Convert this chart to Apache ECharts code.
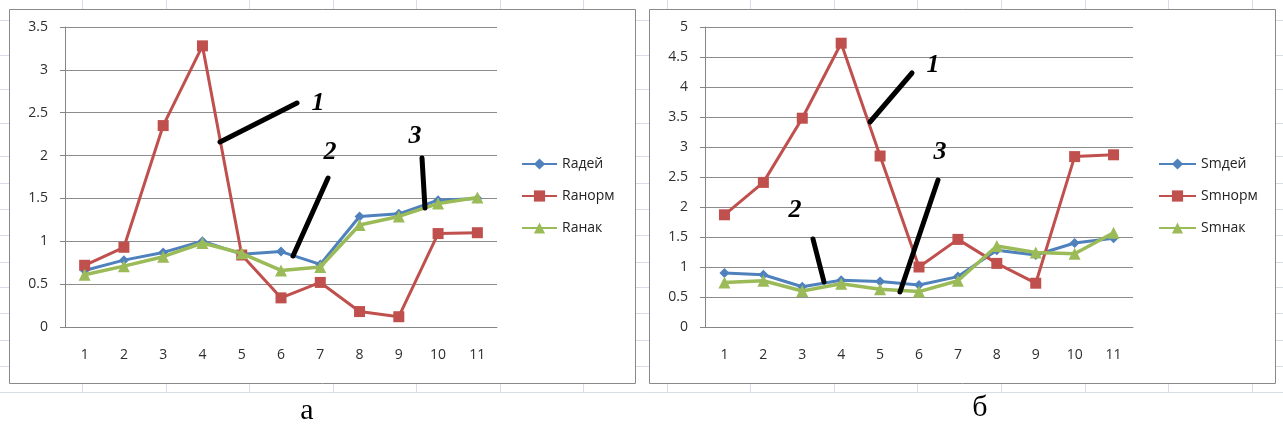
<!DOCTYPE html>
<html><head><meta charset="utf-8">
<script src="https://cdn.jsdelivr.net/npm/echarts@6/dist/echarts.min.js"></script>
<style>html,body{margin:0;padding:0;background:#fff}#c{width:1283px;height:432px}</style>
</head><body><div id="c"></div>
<script>
const categories = ['1','2','3','4','5','6','7','8','9','10','11'];
// Chart а
const namesA = ['Rадей','Rанорм','Rанак'];
const rDei  = [0.66,0.78,0.87,1.00,0.85,0.88,0.73,1.29,1.32,1.48,1.50];
const rNorm = [0.72,0.93,2.35,3.28,0.84,0.34,0.52,0.18,0.12,1.09,1.10];
const rNak  = [0.61,0.71,0.82,0.98,0.86,0.66,0.70,1.19,1.29,1.44,1.51];
// Chart б
const namesB = ['Smдей','Smнорм','Smнак'];
const sDei  = [0.90,0.87,0.67,0.78,0.76,0.70,0.84,1.28,1.20,1.40,1.48];
const sNorm = [1.87,2.41,3.48,4.73,2.85,1.00,1.46,1.06,0.73,2.84,2.87];
const sNak  = [0.74,0.77,0.60,0.72,0.63,0.59,0.77,1.35,1.24,1.22,1.57];
const yMaxA = 3.5, yMaxB = 5, yStep = 0.5;
const panelLabels = ['а','б'];

const colors = ['#4F81BD','#C0504D','#9BBB59'];
const symbols = ['diamond','rect','triangle'];
const symSizes = [10,11,12];
const lineW = [3,3,3.5];
const axisFont = {fontFamily:'"Open Sans", sans-serif', fontSize:14, color:'#2e2e2e'};

function xAx(gi){return {type:'category', gridIndex:gi, data:categories, boundaryGap:true,
  axisLine:{lineStyle:{color:'#868686'}}, axisTick:{length:5, lineStyle:{color:'#868686'}},
  axisLabel:Object.assign({margin:21}, axisFont), splitLine:{show:false}};}
function yAx(gi,max){return {type:'value', gridIndex:gi, min:0, max:max, interval:yStep,
  axisLine:{show:true, lineStyle:{color:'#868686'}}, axisTick:{show:true, length:5, lineStyle:{color:'#868686'}},
  axisLabel:Object.assign({margin:17}, axisFont), splitLine:{lineStyle:{color:'#8c8c8c', width:1}}};}
function ser(name, data, i, gi){return {name:name, type:'line', data:data, xAxisIndex:gi, yAxisIndex:gi,
  symbol:symbols[i], symbolSize:symSizes[i], color:colors[i],
  lineStyle:{width:lineW[i], color:colors[i]}, itemStyle:{color:colors[i]}, z:3+i, animation:false};}

const graphics = [];
// faint spreadsheet gridlines behind the chart frames
for (let x = 82; x < 1283; x += 83.55) graphics.push({type:'line', z:-20, shape:{x1:Math.round(x)+0.5,y1:0,x2:Math.round(x)+0.5,y2:392}, style:{stroke:'#d7dde8', lineWidth:1}});
[20,55,89,123,156,183,209,235,262,287,313,340,366].forEach(y=>graphics.push({type:'line', z:-20, shape:{x1:0,y1:y+0.5,x2:1283,y2:y+0.5}, style:{stroke:'#d7dde8', lineWidth:1}}));
graphics.push({type:'line', z:-20, shape:{x1:0,y1:392.5,x2:1283,y2:392.5}, style:{stroke:'#d7dde8', lineWidth:1}});
graphics.push({type:'rect', z:-15, shape:{x:0,y:393,width:1283,height:39}, style:{fill:'#fff'}});
// frames
graphics.push({type:'rect', z:-10, shape:{x:9.5,y:9.5,width:626,height:374}, style:{fill:'#fff', stroke:'#898989', lineWidth:1}});
graphics.push({type:'rect', z:-10, shape:{x:649.5,y:9.5,width:626,height:374}, style:{fill:'#fff', stroke:'#898989', lineWidth:1}});
// hand-drawn annotation strokes
const strokes = [[220,142,297,103],[293,256,328,178],[422,158,425,208],[870,122,912,73],[900,292,938,180],[813,239,824,282]];
strokes.forEach(s=>graphics.push({type:'line', z:100, shape:{x1:s[0],y1:s[1],x2:s[2],y2:s[3]}, style:{stroke:'#000', lineWidth:5, lineCap:'round'}}));
const annText = [['1',318,103],['2',330,152],['3',415,136],['1',933,65],['3',940,152],['2',795,210]];
annText.forEach(t=>graphics.push({type:'text', z:100, x:t[1], y:t[2], style:{text:t[0], fill:'#000', font:'italic bold 26px "Liberation Serif", serif', textAlign:'center', textVerticalAlign:'middle'}}));
graphics.push({type:'text', x:307, y:411, style:{text:panelLabels[0], fill:'#000', font:'30px "Liberation Serif", serif', textAlign:'center', textVerticalAlign:'middle'}});
graphics.push({type:'text', x:980, y:408, style:{text:panelLabels[1], fill:'#000', font:'30px "Liberation Serif", serif', textAlign:'center', textVerticalAlign:'middle'}});

const legendText = {fontFamily:'"Open Sans", sans-serif', fontSize:14, color:'#222'};
const option = {
  animation:false,
  backgroundColor:'#fff',
  grid:[{left:65, top:27, width:432, height:300},{left:705, top:27, width:428, height:300}],
  xAxis:[xAx(0), xAx(1)],
  yAxis:[yAx(0,yMaxA), yAx(1,yMaxB)],
  legend:[
    {data:namesA, orient:'vertical', left:516, top:152, itemWidth:35, itemHeight:14, itemGap:18, textStyle:legendText, selectedMode:false},
    {data:namesB, orient:'vertical', left:1153, top:152, itemWidth:37, itemHeight:14, itemGap:18, textStyle:legendText, selectedMode:false}
  ],
  series:[
    ser(namesA[0], rDei, 0, 0), ser(namesA[1], rNorm, 1, 0), ser(namesA[2], rNak, 2, 0),
    ser(namesB[0], sDei, 0, 1), ser(namesB[1], sNorm, 1, 1), ser(namesB[2], sNak, 2, 1)
  ],
  graphic:{elements:graphics}
};
const chart = echarts.init(document.getElementById('c'), null, {renderer:'canvas'});
chart.setOption(option);
</script></body></html>
